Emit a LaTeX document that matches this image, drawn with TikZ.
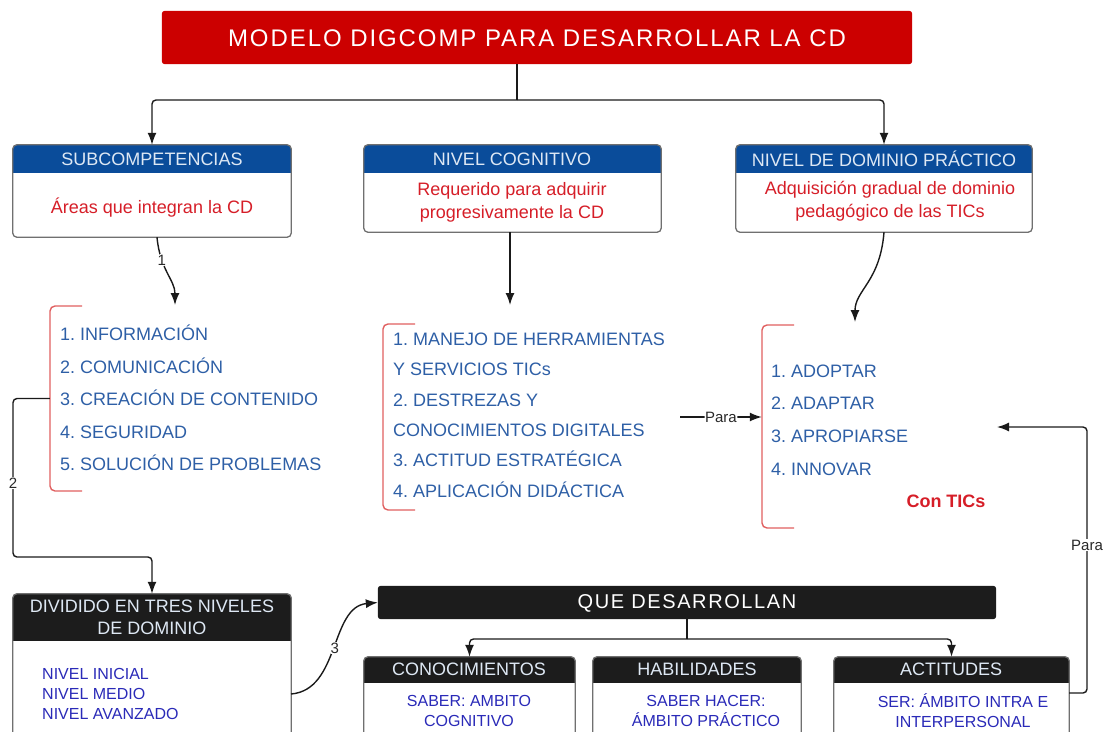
\documentclass[tikz,border=0pt]{standalone}
\usepackage{fontspec}
\setmainfont{Liberation Sans}
\usetikzlibrary{arrows.meta,fit}
\frenchspacing

\definecolor{titlered}{RGB}{204,0,0}
\definecolor{hdrblue}{RGB}{10,76,154}
\definecolor{hdrlight}{RGB}{222,232,244}
\definecolor{hdrblack}{RGB}{28,28,28}
\definecolor{bodyred}{RGB}{214,30,40}
\definecolor{listblue}{RGB}{46,95,166}
\definecolor{deepblue}{RGB}{42,42,184}
\definecolor{bracketred}{RGB}{224,96,96}
\definecolor{cardgray}{RGB}{112,112,112}
\definecolor{linecol}{RGB}{26,26,26}
\definecolor{labelgray}{RGB}{40,40,40}

\tikzset{
  conn/.style={draw=linecol, line width=1.4pt, rounded corners=4pt,
    -{Latex[length=12pt,width=9pt]}},
  plain/.style={draw=linecol, line width=1.4pt, rounded corners=4pt},
  cardline/.style={draw=cardgray, line width=1.3pt},
  bracketline/.style={draw=bracketred, line width=1.4pt, rounded corners=5pt},
  hdrtxt/.style={font=\fontsize{18}{22}\selectfont, text=hdrlight, inner sep=0pt, align=center},
  redtxt/.style={font=\fontsize{18}{23}\selectfont, text=bodyred, inner sep=0pt, align=center},
  listtxt/.style={text=listblue, inner sep=0pt, align=left, anchor=west},
  deeptxt/.style={font=\fontsize{16}{20}\selectfont, text=deepblue, inner sep=0pt},
  techno/.style={text=white, inner sep=0pt},
  lbl/.style={font=\fontsize{15}{17}\selectfont, text=labelgray, fill=white, inner sep=1pt},
}

% card: name, x1, y1, x2, y2, header bottom y, header colour
\newcommand\mkcard[7]{%
  \node[fit={(#2,#3) (#4,#5)}, inner sep=0pt] (#1) {};
  \begin{scope}
    \clip[rounded corners=4pt] (#1.north west) rectangle (#1.south east);
    \fill[white] (#1.north west) rectangle (#1.south east);
    \fill[#7] (#1.north west) rectangle (#4,#6);
  \end{scope}
  \draw[cardline, rounded corners=4pt] (#1.north west) rectangle (#1.south east);
}

% bracket: name, x, y1, y2
\newcommand\mkbracket[4]{%
  \node[fit={(#2,#3) (#2+32,#4)}, inner sep=0pt] (#1) {};
  \draw[bracketline] (#2+32,#3) -- (#2,#3) -- (#2,#4) -- (#2+32,#4);
}

\begin{document}
\begin{tikzpicture}[x=1pt, y=-1pt]
\useasboundingbox (0,0) rectangle (1107,731);
\clip (0,0) rectangle (1107,731);

% title bar
\node[fit={(162,11) (912,64)}, inner sep=0pt] (title) {};
\fill[titlered, rounded corners=3pt] (title.north west) rectangle (title.south east);
\node[techno, font=\fontsize{24}{28}\selectfont\addfontfeature{LetterSpace=8}] (titletxt) at (537,38) {MODELO DIGCOMP PARA DESARROLLAR LA CD};

% three top cards
\mkcard{sub}{13}{145}{291}{237}{173}{hdrblue}
\node[hdrtxt] (subh) at (152,159) {SUBCOMPETENCIAS};
\node[redtxt] (subb) at (152,208) {Áreas que integran la CD};

\mkcard{cog}{364}{145}{661}{232}{173}{hdrblue}
\node[hdrtxt] (cogh) at (512,159) {NIVEL COGNITIVO};
\node[redtxt] (cogb) at (512,202) {Requerido para adquirir\\progresivamente la CD};

\mkcard{dom}{736}{145}{1032}{232}{173}{hdrblue}
\node[hdrtxt] (domh) at (884,159) {NIVEL DE DOMINIO PRÁCTICO};
\node[redtxt] (domb) at (890,201) {Adquisición gradual de dominio\\pedagógico de las TICs};

% lists with brackets
\mkbracket{list1b}{50}{306}{491}
\node[listtxt, font=\fontsize{18}{32.6}\selectfont] (list1) at (60,398) {1. INFORMACIÓN\\2. COMUNICACIÓN\\3. CREACIÓN DE CONTENIDO\\4. SEGURIDAD\\5. SOLUCIÓN DE PROBLEMAS};

\mkbracket{list2b}{383}{324}{510}
\node[listtxt, font=\fontsize{18}{30.4}\selectfont] (list2) at (393,415) {1. MANEJO DE HERRAMIENTAS\\Y SERVICIOS TICs\\2. DESTREZAS Y\\CONOCIMIENTOS DIGITALES\\3. ACTITUD ESTRATÉGICA\\4. APLICACIÓN DIDÁCTICA};

\mkbracket{list3b}{762}{325}{528}
\node[listtxt, font=\fontsize{18}{32.7}\selectfont] (list3) at (771,420) {1. ADOPTAR\\2. ADAPTAR\\3. APROPIARSE\\4. INNOVAR};
\node[font=\fontsize{18}{22}\selectfont\bfseries, text=bodyred, inner sep=0pt] (contics) at (946,501) {Con TICs};

% bottom row
\mkcard{div}{13}{594}{291}{760}{641}{hdrblack}
\node[hdrtxt, font=\fontsize{18}{22}\selectfont] (divh) at (152,617) {DIVIDIDO EN TRES NIVELES\\DE DOMINIO};
\node[deeptxt, align=left, anchor=west] (divb) at (42,694) {NIVEL INICIAL\\NIVEL MEDIO\\NIVEL AVANZADO};

\node[fit={(378,586) (996,619)}, inner sep=0pt] (que) {};
\fill[hdrblack, rounded corners=3pt] (que.north west) rectangle (que.south east);
\node[techno, font=\fontsize{20}{24}\selectfont\addfontfeature{LetterSpace=8}] (quetxt) at (687,603) {QUE DESARROLLAN};

\mkcard{con}{364}{657}{575}{760}{683}{hdrblack}
\node[hdrtxt] (conh) at (469,669) {CONOCIMIENTOS};
\node[deeptxt, align=center] (conb) at (469,711) {SABER: AMBITO\\COGNITIVO};

\mkcard{hab}{593}{657}{801}{760}{683}{hdrblack}
\node[hdrtxt] (habh) at (697,669) {HABILIDADES};
\node[deeptxt, align=center] (habb) at (706,711) {SABER HACER:\\ÁMBITO PRÁCTICO};

\mkcard{act}{834}{657}{1069}{760}{683}{hdrblack}
\node[hdrtxt] (acth) at (951,669) {ACTITUDES};
\node[deeptxt, align=center] (actb) at (963,711) {SER: ÁMBITO INTRA E\\INTERPERSONAL};

% connectors from the title
\coordinate (tj) at (517,100);
\draw[plain] (title.south -| tj) -- (tj);
\draw[conn] (tj) -| (sub.north);
\draw[conn] (tj) -| (dom.north);

% connectors into the lists
\coordinate (l1in) at (175,305);
\draw[conn] ([xshift=5pt]sub.south) .. controls (160,270) and (175,280) .. (l1in)
  node[lbl, pos=0.28] {1};
\coordinate (l2in) at (510,305);
\draw[conn] (cog.south -| l2in) -- (l2in);
\coordinate (l3in) at (855,322);
\draw[conn] (dom.south) .. controls (880,282) and (855,290) .. (l3in);

% Para into the third list
\coordinate (paraStart) at (680,417);
\draw[conn] (paraStart) -- (paraStart -| list3b.west)
  node[lbl, midway, inner sep=0.5pt] {Para};

% list 1 to the levels card
\coordinate (c2a) at (13,398.5);
\coordinate (c2b) at (13,557);
\draw[conn] (list1b.west) -- (c2a) -- (c2b) -| (div.north);
\node[lbl] (lbl2) at (13,483) {2};

% levels card to QUE DESARROLLAN
\coordinate (divout) at (291,694);
\draw[conn] (divout) .. controls (340,690) and (330,607) .. (que.west)
  node[lbl, pos=0.5] {3};

% QUE DESARROLLAN to its children
\coordinate (qj) at (687,639);
\draw[plain] (que.south) -- (qj);
\draw[conn] (qj) -| (con.north);
\draw[conn] (qj) -| (act.north);

% ACTITUDES back up to the third list
\coordinate (actout) at (1069,693);
\coordinate (backin) at (997,427);
\draw[conn] (actout) -| (1087,427) -- (backin);
\node[lbl] (lblpara) at (1087,545) {Para};

\end{tikzpicture}
\end{document}
